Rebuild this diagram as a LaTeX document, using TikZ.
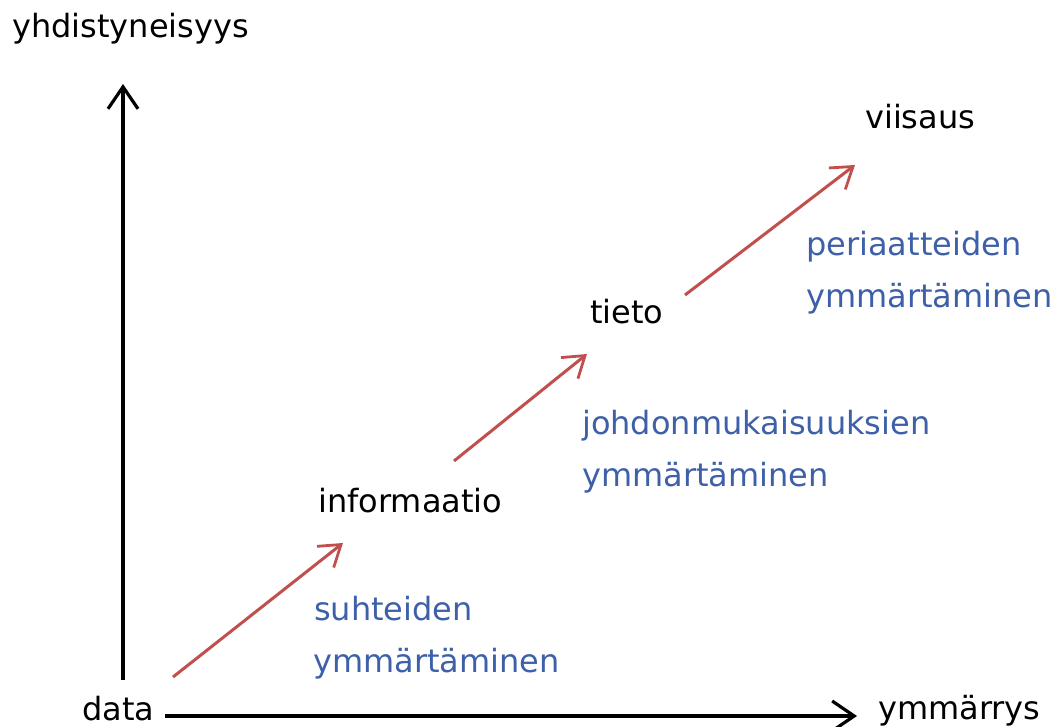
\documentclass[tikz,border=0pt]{standalone}
\usepackage{fontspec}
\setmainfont{DejaVu Sans}
\usetikzlibrary{arrows.meta}
\definecolor{stepred}{RGB}{192,80,77}
\definecolor{labelblue}{RGB}{62,96,168}
\begin{document}
\begin{tikzpicture}[x=1pt,y=-1pt,
  lbl/.style={inner sep=0pt,anchor=base west,font=\fontsize{32}{38}\selectfont},
  stage/.style={lbl,text=black},
  note/.style={lbl,text=labelblue},
  axis/.style={line width=4pt,draw=black,-{Straight Barb[length=22pt,width=30pt,line width=3.2pt]}},
  rise/.style={line width=3pt,draw=stepred,-{Straight Barb[length=20pt,width=27pt,line width=2.8pt]}}]
\useasboundingbox (0,0) rectangle (1056,727);
% axis labels
\node[stage] (yaxis) at (12,38) {yhdistyneisyys};
\node[stage] (xaxis) at (878,719) {ymmärrys};
% stages
\node[stage] (data) at (82,720) {data};
\node[stage] (info) at (318,512) {informaatio};
\node[stage] (tieto) at (590,323) {tieto};
\node[stage] (viisaus) at (865,129) {viisaus};
% transitions
\node[note] (n1a) at (314,620) {suhteiden};
\node[note] (n1b) at (313,672) {ymmärtäminen};
\node[note] (n2a) at (582,434) {johdonmukaisuuksien};
\node[note] (n2b) at (582,486) {ymmärtäminen};
\node[note] (n3a) at (806,255) {periaatteiden};
\node[note] (n3b) at (806,307) {ymmärtäminen};
% axes
\coordinate (vbase) at (123,680);
\coordinate (vtip) at (123,84);
\coordinate (hbase) at (165,716);
\coordinate (htip) at (857,716);
\draw[axis] (vbase) -- (vtip);
\draw[axis] (hbase) -- (htip);
% rising arrows
\coordinate (r1s) at (173,677); \coordinate (r1e) at (343,543);
\coordinate (r2s) at (454,461); \coordinate (r2e) at (587,354);
\coordinate (r3s) at (685,295); \coordinate (r3e) at (855,165);
\draw[rise] (r1s) -- (r1e);
\draw[rise] (r2s) -- (r2e);
\draw[rise] (r3s) -- (r3e);
\end{tikzpicture}
\end{document}
